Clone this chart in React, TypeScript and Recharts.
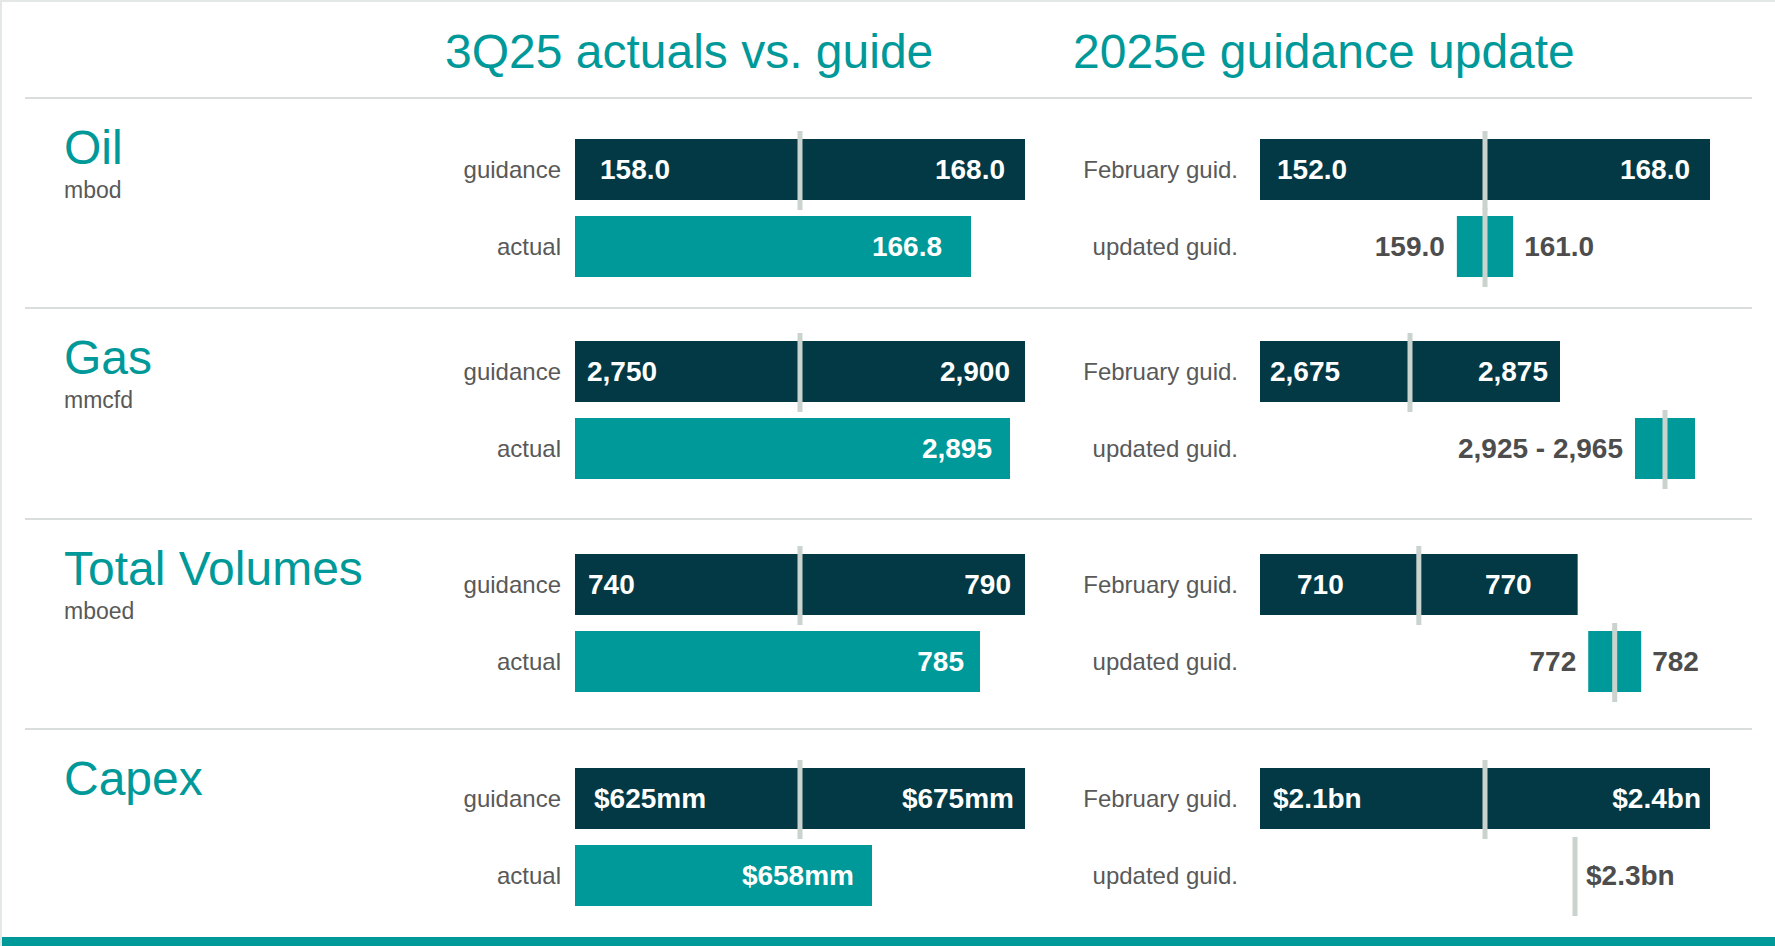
import { BarChart, Bar, XAxis, YAxis, LabelList } from 'recharts';

// Metrics, one per row band
const metricNames = ['Oil', 'Gas', 'Total Volumes', 'Capex'];
const metricUnits = ['mbod', 'mmcfd', 'mboed', ''];

// 3Q25 guidance range and actual
const q3GuideLow = [158.0, 2750, 740, 625];
const q3GuideHigh = [168.0, 2900, 790, 675];
const q3Actual = [166.8, 2895, 785, 658];

// 2025e February guidance and updated guidance
const febGuideLow = [152.0, 2675, 710, 2.1];
const febGuideHigh = [168.0, 2875, 770, 2.4];
const updGuideLow = [159.0, 2925, 772, 2.31];
const updGuideHigh = [161.0, 2965, 782, 2.31];

// category labels
const leftRowLabels = ['guidance', 'actual'];
const rightRowLabels = ['February guid.', 'updated guid.'];

// upper end of the 2025e axis (lower end = February low)
const rightAxisMax = [168, 2975, 795, 2.4];

// how the updated-guidance numbers are written next to the bar
const updLabelStyle = ['split', 'joined', 'split', 'point'];

const TEAL = '#009999';
const DARK = '#023945';
const MIDLINE = '#cbd3ce';
const GREY_TEXT = '#595959';
const VALUE_TEXT = '#4d4d4d';
const FONT = '"Liberation Sans", Arial, sans-serif';

// layout
const SEP_Y = [98, 308, 519, 729];
const ROW_TOP = [139, 341, 554, 768];
const BAR = 61;
const BAND = 77;
const CHART_H = 4 + BAND * 2 + 6;

// inner label padding, per metric (as placed in the slide)
const q3PadLo = [25, 12, 13, 19];
const q3PadHi = [20, 15, 14, 11];
const q3PadAct = [29, 18, 16, 18];
const fyPadLo = [17, 10, 37, 13];
const fyPadHi = [20, 12, 46, 9];

function commas(v: number): string {
    return Math.round(v).toString().replace(/\B(?=(\d{3})+(?!\d))/g, ',');
}

const fmtQ3 = [
    (v: number) => v.toFixed(1),
    (v: number) => commas(v),
    (v: number) => String(v),
    (v: number) => `$${v}mm`,
];

const fmtFY = [
    (v: number) => v.toFixed(1),
    (v: number) => commas(v),
    (v: number) => String(v),
    (v: number) => `$${v.toFixed(1)}bn`,
];

function leftRows(i: number) {
    const f = fmtQ3[i];
    return [
        {
            name: leftRowLabels[0],
            range: [q3GuideLow[i], q3GuideHigh[i]],
            kind: 'guide',
            inLo: f(q3GuideLow[i]),
            inHi: f(q3GuideHigh[i]),
        },
        {
            name: leftRowLabels[1],
            range: [q3GuideLow[i], q3Actual[i]],
            kind: 'actual',
            inAct: f(q3Actual[i]),
        },
    ];
}

function rightRows(i: number) {
    const f = fmtFY[i];
    const style = updLabelStyle[i];
    const upd: Record<string, unknown> = {
        name: rightRowLabels[1],
        range: [updGuideLow[i], updGuideHigh[i]],
        kind: 'update',
    };
    if (style === 'split') {
        upd.outLo = f(updGuideLow[i]);
        upd.outHi = f(updGuideHigh[i]);
    } else if (style === 'joined') {
        upd.outLo = `${f(updGuideLow[i])} - ${f(updGuideHigh[i])}`;
    } else {
        upd.outHi = f(updGuideLow[i]);
    }
    return [
        {
            name: rightRowLabels[0],
            range: [febGuideLow[i], febGuideHigh[i]],
            kind: 'guide',
            inLo: f(febGuideLow[i]),
            inHi: f(febGuideHigh[i]),
        },
        upd,
    ];
}

// bar rect plus the grey midpoint marker
function renderBar(props: any) {
    const { x, y, width, height, payload } = props;
    const fill = payload.kind === 'guide' ? DARK : TEAL;
    const mid = x + width / 2;
    return (
        <g>
            {width > 0 && <rect x={x} y={y} width={width} height={height} fill={fill} />}
            {payload.kind !== 'actual' && (
                <rect x={mid - 2.5} y={y - 8} width={5} height={height + 18} fill={MIDLINE} />
            )}
        </g>
    );
}

const valueFont = { fontSize: 28, fontWeight: 700, fontFamily: FONT };

function PanelChart({ rows, domain, left, top, axisWidth, tickGap, padLo, padHi, padAct }: {
    rows: Record<string, unknown>[];
    domain: [number, number];
    left: number;
    top: number;
    axisWidth: number;
    tickGap: number;
    padLo: number;
    padHi: number;
    padAct: number;
}) {
    const plotWidth = 450;
    return (
        <div style={{ position: 'absolute', left, top }}>
            <BarChart
                width={axisWidth + plotWidth + 5}
                height={CHART_H}
                data={rows}
                layout="vertical"
                barSize={BAR}
                margin={{ top: 4, right: 5, bottom: 6, left: 0 }}
            >
                <XAxis type="number" domain={domain} allowDataOverflow hide />
                <YAxis
                    type="category"
                    dataKey="name"
                    width={axisWidth}
                    axisLine={false}
                    tickLine={false}
                    tickSize={0}
                    tickMargin={tickGap}
                    interval={0}
                    tick={{ fontSize: 24, fill: GREY_TEXT, fontFamily: FONT }}
                />
                <Bar dataKey="range" shape={renderBar} isAnimationActive={false}>
                    <LabelList dataKey="inLo" position="insideLeft" offset={padLo} fill="#ffffff" {...valueFont} />
                    <LabelList dataKey="inHi" position="insideRight" offset={padHi} fill="#ffffff" {...valueFont} />
                    <LabelList dataKey="inAct" position="insideRight" offset={padAct} fill="#ffffff" {...valueFont} />
                    <LabelList dataKey="outLo" position="left" offset={12} fill={VALUE_TEXT} {...valueFont} />
                    <LabelList dataKey="outHi" position="right" offset={11} fill={VALUE_TEXT} {...valueFont} />
                </Bar>
            </BarChart>
        </div>
    );
}

export default function App() {
    return (
        <div
            style={{
                position: 'absolute',
                left: 0,
                top: 0,
                width: 1775,
                height: 946,
                background: '#ffffff',
                overflow: 'hidden',
                fontFamily: FONT,
            }}
        >
            <svg width={1775} height={946} style={{ position: 'absolute', left: 0, top: 0 }}>
                <rect x={0} y={0} width={1775} height={2} fill="#e3e7e6" />
                <rect x={0} y={0} width={2} height={946} fill="#e3e7e6" />
                <text x={445} y={68} fontSize={48} fill={TEAL} fontFamily={FONT}>3Q25 actuals vs. guide</text>
                <text x={1073} y={68} fontSize={48} fill={TEAL} fontFamily={FONT}>2025e guidance update</text>
                {SEP_Y.map((sy, i) => (
                    <g key={i}>
                        <rect x={25} y={sy - 1} width={1727} height={2} fill="#d9dddc" />
                        <text x={64} y={sy + 66} fontSize={48} fill={TEAL} fontFamily={FONT}>{metricNames[i]}</text>
                        {metricUnits[i] && (
                            <text x={64} y={sy + 100} fontSize={23} fill={GREY_TEXT} fontFamily={FONT}>{metricUnits[i]}</text>
                        )}
                    </g>
                ))}
                <rect x={2} y={937} width={1773} height={9} fill={TEAL} />
            </svg>
            {metricNames.map((name, i) => (
                <div key={name}>
                    <PanelChart
                        rows={leftRows(i)}
                        domain={[q3GuideLow[i], q3GuideHigh[i]]}
                        left={410}
                        top={ROW_TOP[i] - 12}
                        axisWidth={165}
                        tickGap={14}
                        padLo={q3PadLo[i]}
                        padHi={q3PadHi[i]}
                        padAct={q3PadAct[i]}
                    />
                    <PanelChart
                        rows={rightRows(i)}
                        domain={[febGuideLow[i], rightAxisMax[i]]}
                        left={1040}
                        top={ROW_TOP[i] - 12}
                        axisWidth={220}
                        tickGap={22}
                        padLo={fyPadLo[i]}
                        padHi={fyPadHi[i]}
                        padAct={16}
                    />
                </div>
            ))}
        </div>
    );
}
